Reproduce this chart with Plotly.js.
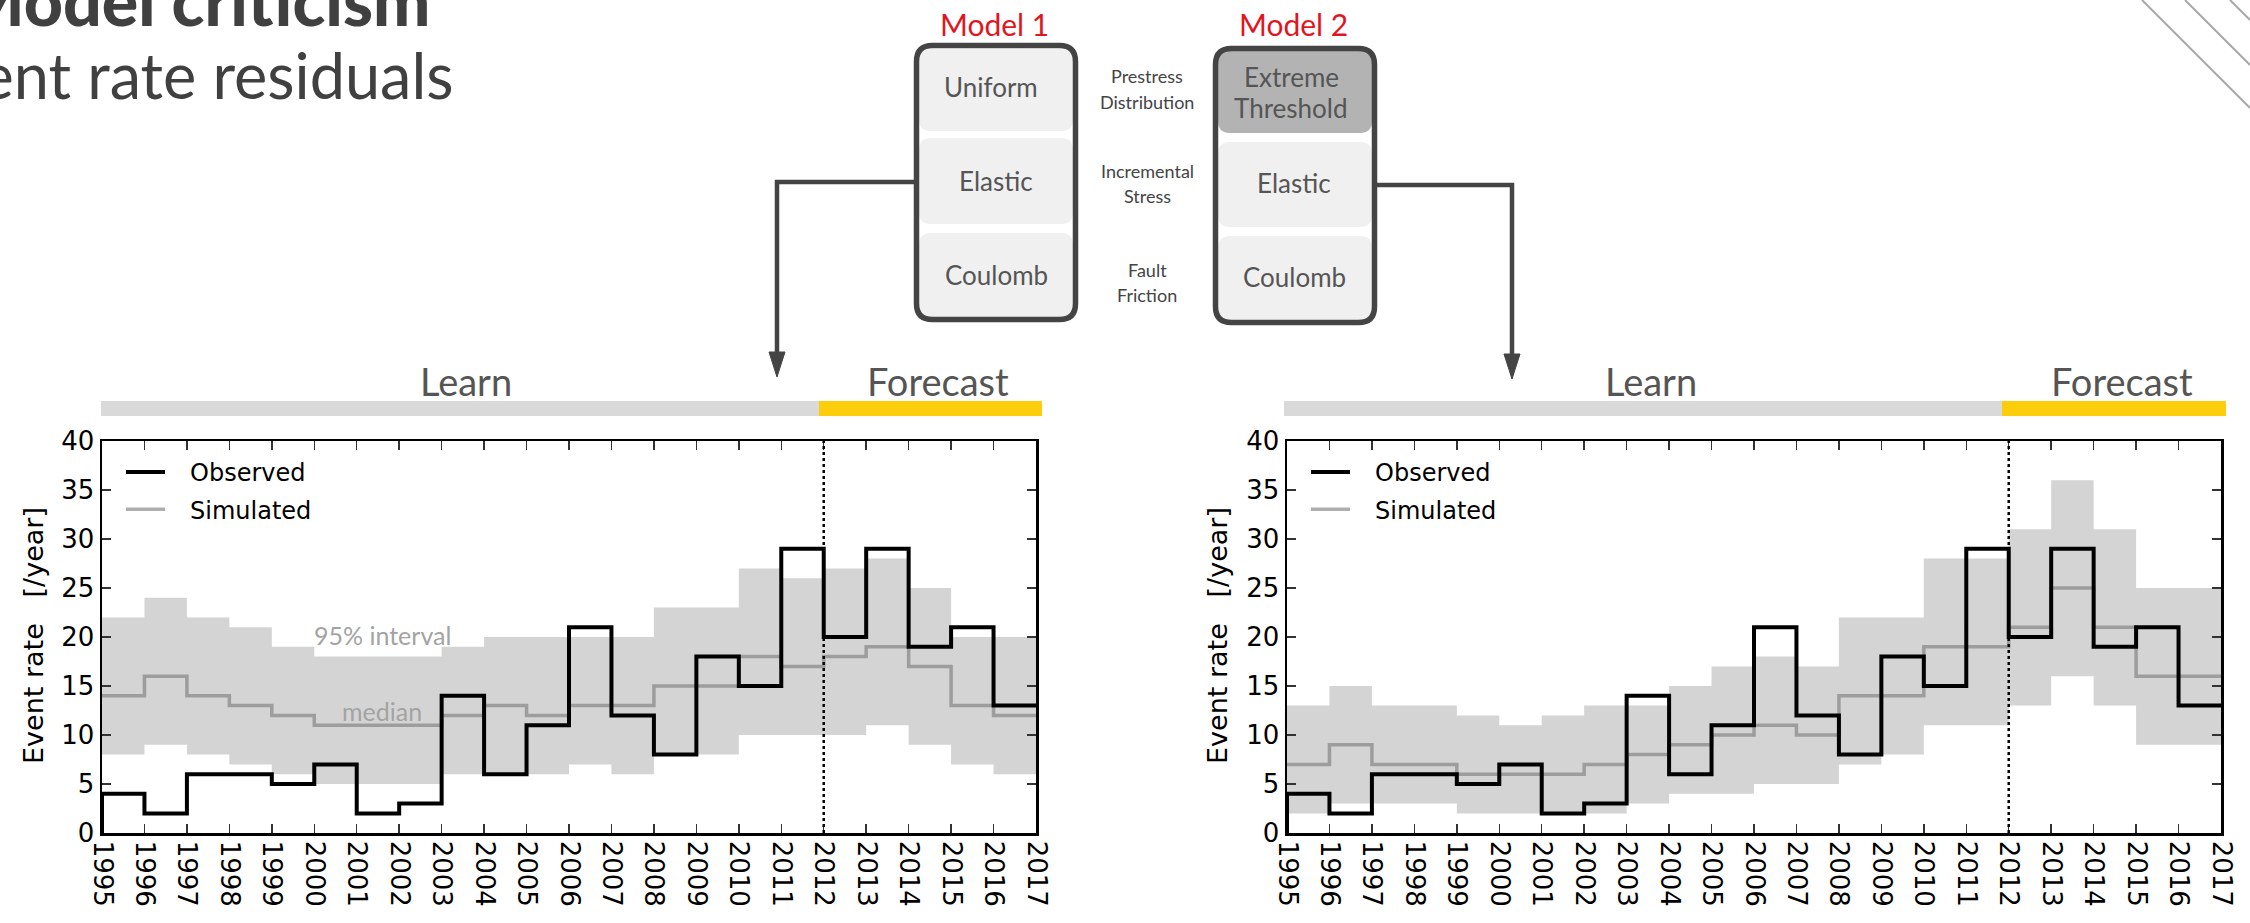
<!DOCTYPE html>
<html><head><meta charset="utf-8">
<script src="https://cdn.plot.ly/plotly-3.0.1.min.js"></script>
<style>html,body{margin:0;padding:0;background:#fff;overflow:hidden}#chart{width:2250px;height:923px}</style>
</head><body><div id="chart"></div>
<script>
// ---- data ----
const yearTicks = [1995,1996,1997,1998,1999,2000,2001,2002,2003,2004,2005,2006,2007,2008,2009,2010,2011,2012,2013,2014,2015,2016,2017];
const observed = [4,2,6,6,5,7,2,3,14,6,11,21,12,8,18,15,29,20,29,19,21,13];
const m1Median = [14,16,14,13,12,11,11,11,12,13,12,13,13,15,15,18,17,18,19,17,13,12];
const m1Upper  = [22,24,22,21,19,18,18,18,19,20,20,20,20,23,23,27,26,27,28,25,20,20];
const m1Lower  = [8,9,8,7,6,5,5,5,6,6,6,7,6,8,8,10,10,10,11,9,7,6];
const m2Median = [7,9,7,7,6,6,6,7,8,9,10,11,10,14,14,19,19,21,25,21,16,16];
const m2Upper  = [13,15,13,13,12,11,12,13,13,15,17,18,17,22,22,28,28,31,36,31,25,25];
const m2Lower  = [2,3,3,3,2,2,2,2,3,4,4,5,5,7,8,11,11,13,16,13,9,9];
const yTicks = [0,5,10,15,20,25,30,35,40];
const forecastStart = 2012;
const seriesNames = ['Observed','Simulated'];
const yTitle = 'Event rate\u00a0\u00a0\u00a0[/year]';

// ---- helpers ----
const W = 2250, H = 923;
const px = x => x / W, py = y => 1 - y / H;
const stepY = v => v.concat([v[v.length-1]]);
const FUT = 'Lato, "Open Sans", sans-serif';
const DJ = '"DejaVu Sans", sans-serif';
const legendPad = '\u00a0\u00a0\u2009';

const panels = [
  {xa:'x', ya:'y', lg:'legend', med:m1Median, up:m1Upper, lo:m1Lower},
  {xa:'x2', ya:'y2', lg:'legend2', med:m2Median, up:m2Upper, lo:m2Lower}
];
const traces = [];
panels.forEach(p => {
  traces.push({x:yearTicks, y:stepY(p.lo), xaxis:p.xa, yaxis:p.ya, mode:'lines', line:{shape:'hv', width:0, color:'rgba(0,0,0,0)'}, showlegend:false, hoverinfo:'skip'});
  traces.push({x:yearTicks, y:stepY(p.up), xaxis:p.xa, yaxis:p.ya, mode:'lines', fill:'tonexty', fillcolor:'#d4d4d4', line:{shape:'hv', width:0, color:'rgba(0,0,0,0)'}, showlegend:false, hoverinfo:'skip'});
  traces.push({x:yearTicks, y:stepY(p.med), xaxis:p.xa, yaxis:p.ya, mode:'lines', name:legendPad+seriesNames[1], legend:p.lg, legendrank:2, legendgroup:'sim', line:{shape:'hv', width:3.5, color:'rgba(120,120,120,0.6)'}});
  traces.push({x:[yearTicks[0]].concat(yearTicks), y:[0].concat(stepY(observed)), xaxis:p.xa, yaxis:p.ya, mode:'lines', name:legendPad+seriesNames[0], legend:p.lg, legendrank:1, legendgroup:'obs', line:{shape:'hv', width:4, color:'#000'}});
});

function xAxis(d0, d1, anchor){
  return {domain:[px(d0), px(d1)], range:[yearTicks[0], yearTicks[yearTicks.length-1]], anchor:anchor,
    tickvals:yearTicks, ticktext:yearTicks.map(String), tickangle:90, ticks:'inside', ticklen:9, tickwidth:1.5, tickcolor:'#333',
    showline:true, linewidth:2.5, linecolor:'#000', mirror:'allticks', showgrid:false, zeroline:false,
    tickfont:{family:DJ, size:26, color:'#000'}, fixedrange:true};
}
function yAxis(anchor){
  return {domain:[py(833), py(441)], range:[0,40], anchor:anchor, tickvals:yTicks, ticktext:yTicks.map(String),
    ticks:'inside', ticklen:9, tickwidth:1.5, tickcolor:'#333', showline:true, linewidth:2.5, linecolor:'#000', mirror:'allticks',
    showgrid:false, zeroline:false, tickfont:{family:DJ, size:26, color:'#000'}, fixedrange:true};
}

function rr(x0,y0,x1,y1,r){
  const X = v => px(v).toFixed(6), Y = v => py(v).toFixed(6);
  return `M${X(x0+r)},${Y(y0)} L${X(x1-r)},${Y(y0)} Q${X(x1)},${Y(y0)} ${X(x1)},${Y(y0+r)} L${X(x1)},${Y(y1-r)} Q${X(x1)},${Y(y1)} ${X(x1-r)},${Y(y1)} L${X(x0+r)},${Y(y1)} Q${X(x0)},${Y(y1)} ${X(x0)},${Y(y1-r)} L${X(x0)},${Y(y0+r)} Q${X(x0)},${Y(y0)} ${X(x0+r)},${Y(y0)} Z`;
}
function poly(pts, close){
  return pts.map((p,i)=> (i?'L':'M') + px(p[0]).toFixed(6)+','+py(p[1]).toFixed(6)).join(' ') + (close?' Z':'');
}

const shapes = [];
const pshape = (path, fill, lc, lw) => shapes.push({type:'path', xref:'paper', yref:'paper', path:path, fillcolor:fill||'rgba(0,0,0,0)', line:{color:lc||'rgba(0,0,0,0)', width:lw||0}, layer:'above'});
const prect = (x0,y0,x1,y1,fill) => shapes.push({type:'rect', xref:'paper', yref:'paper', x0:px(x0), x1:px(x1), y0:py(y1), y1:py(y0), fillcolor:fill, line:{width:0}, layer:'below'});

// learn / forecast bars
prect(101, 401, 819, 416, '#d9d9d9'); prect(819, 401, 1042, 416, '#fccd0a');
prect(1284, 401, 2002, 416, '#d9d9d9'); prect(2002, 401, 2226, 416, '#fccd0a');

// forecast dotted lines
[['x','y'],['x2','y2']].forEach(a => shapes.push({type:'line', xref:a[0], yref:a[1], x0:forecastStart, x1:forecastStart, y0:yTicks[0], y1:yTicks[yTicks.length-1], line:{color:'#000', width:2.5, dash:'dot'}, layer:'above'}));

// diagram boxes
const sec1 = [[49,131],[138,224],[233,317]];
const sec2 = [[50,133],[142,227],[236,320]];
sec1.forEach(s => pshape(rr(919, s[0], 1073, s[1], 12), '#f0f0f0'));
sec2.forEach((s,i) => pshape(rr(1218, s[0], 1372, s[1], 12), i===0 ? '#b3b3b3' : '#f0f0f0'));
pshape(rr(916.5, 45.5, 1075.5, 319.5, 16), null, '#444', 5.5);
pshape(rr(1215.5, 48.5, 1374.5, 322.5, 16), null, '#444', 5.5);

// arrows
pshape(poly([[914,182],[777,182],[777,360]]), null, '#444', 4.5);
pshape(poly([[769,352],[785,352],[777,377]], true), '#444', '#444', 1);
pshape(poly([[1377,185],[1512,185],[1512,362]]), null, '#444', 4.5);
pshape(poly([[1504,354],[1520,354],[1512,379]], true), '#444', '#444', 1);

// corner decoration
[[2142,0,2250,108],[2185,0,2250,65],[2230,0,2250,20]].forEach(l => shapes.push({type:'line', xref:'paper', yref:'paper', x0:px(l[0]), y0:py(l[1]), x1:px(l[2]), y1:py(l[3]), line:{color:'#a8a8a8', width:2}}));

const annotations = [];
const txt = (t, x, y, size, color, family, extra) => annotations.push(Object.assign({text:t, x:px(x), y:py(y), xref:'paper', yref:'paper', showarrow:false, xanchor:'center', yanchor:'middle', font:{family:family||FUT, size:size, color:color}}, extra||{}));

// slide title (cut at left edge, as in the slide)
annotations.push({text:'Model criticism', x:px(432), y:py(-1), xref:'paper', yref:'paper', showarrow:false, xanchor:'right', yanchor:'middle', font:{family:FUT, size:68, color:'#404040', weight:900}});
txt('Event rate residuals', 456, 75, 63, '#404040', FUT, {xanchor:'right'});

// diagram text
const modelLabel = i => 'Model ' + i;
txt(modelLabel(1), 994, 24, 30, '#e2151f');
txt(modelLabel(2), 1293, 24, 30, '#e2151f');
txt('Uniform', 991, 87, 26, '#555');
txt('Elastic', 996, 181, 26, '#555');
txt('Coulomb', 996, 275, 26, '#555');
txt('Extreme', 1291, 77, 26, '#555');
txt('Threshold', 1291, 108, 26, '#555');
txt('Elastic', 1294, 183, 26, '#555');
txt('Coulomb', 1294, 277, 26, '#555');
txt('Prestress', 1147, 76, 18, '#444');
txt('Distribution', 1147, 102, 18, '#444');
txt('Incremental', 1147, 171, 18, '#444');
txt('Stress', 1147, 196, 18, '#444');
txt('Fault', 1147, 270, 18, '#444');
txt('Friction', 1147, 295, 18, '#444');

// learn / forecast labels
txt('Learn', 466, 381, 38, '#555');
txt('Forecast', 938, 381, 38, '#555');
txt('Learn', 1651, 381, 38, '#555');
txt('Forecast', 2122, 381, 38, '#555');

// y titles
txt(yTitle, 33, 636, 27, '#000', DJ, {textangle:-90});
txt(yTitle, 1217, 636, 27, '#000', DJ, {textangle:-90});

// band labels (left panel)
annotations.push({text:'95% interval', x:2001.6, y:20.2, xref:'x', yref:'y', showarrow:false, font:{family:FUT, size:25, color:'#a3a3a3'}});
annotations.push({text:'median', x:2001.6, y:12.5, xref:'x', yref:'y', showarrow:false, font:{family:FUT, size:25, color:'#a3a3a3'}});

const legendBase = {xanchor:'left', yanchor:'top', bgcolor:'rgba(0,0,0,0)', borderwidth:0, font:{family:DJ, size:24, color:'#000'}, traceorder:'grouped', tracegroupgap:3, itemwidth:39};
const layout = {
  width:W, height:H, margin:{l:0,r:0,t:0,b:0,pad:0}, paper_bgcolor:'#fff', plot_bgcolor:'#fff',
  xaxis: xAxis(102, 1036, 'y'), yaxis: yAxis('x'),
  xaxis2: xAxis(1287, 2221, 'y2'), yaxis2: yAxis('x2'),
  legend: Object.assign({x:px(121), y:py(450)}, legendBase),
  legend2: Object.assign({x:px(1306), y:py(450)}, legendBase),
  shapes: shapes, annotations: annotations, showlegend:true
};
Plotly.newPlot('chart', traces, layout, {displayModeBar:false, staticPlot:true});
</script></body></html>
